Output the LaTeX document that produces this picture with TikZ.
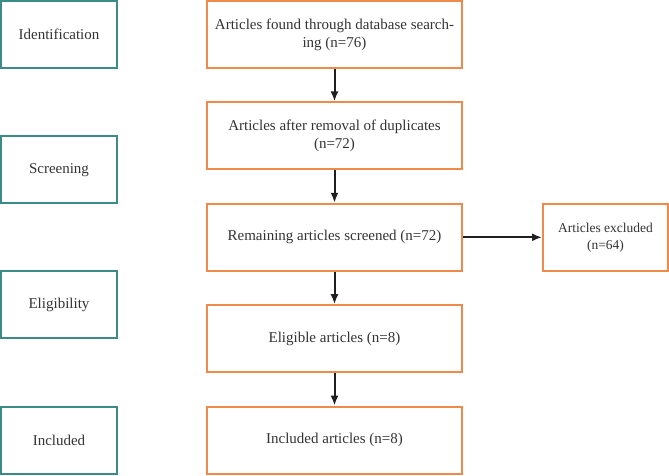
\documentclass[tikz,border=0pt]{standalone}
\usepackage{fontspec}
\setmainfont{Liberation Serif}
\usepackage{tikz}
\usetikzlibrary{arrows.meta, positioning}
\definecolor{stageteal}{HTML}{3B8B88}
\definecolor{steporange}{HTML}{F08A4B}
\definecolor{textgrey}{HTML}{333333}
\tikzset{
    stagebox/.style={draw=stageteal, line width=2pt, minimum width=116pt, minimum height=67pt, inner sep=2pt, align=center, text=textgrey, font=\fontsize{15}{18}\selectfont},
    flowbox/.style={draw=steporange, line width=2pt, minimum width=255pt, minimum height=67pt, inner sep=2pt, align=center, text=textgrey, font=\fontsize{15}{18}\selectfont},
    flow/.style={-{Latex[length=10pt, width=8pt]}, line width=2pt, draw=black!88},
}

\begin{document}
\begin{tikzpicture}
    \useasboundingbox (0,0) rectangle (669pt,-475pt);
    \tikzset{node distance=32.4pt}

    % main flow
    \node[flowbox] (found) at (334.5pt,-34.5pt) {Articles found through database search-\\ing (n=76)};
    \node[flowbox, below=of found] (nodup) {Articles after removal of duplicates\\(n=72)};
    \node[flowbox, below=of nodup] (screened) {Remaining articles screened (n=72)};
    \node[flowbox, below=of screened] (eligible) {Eligible articles (n=8)};
    \node[flowbox, below=of eligible] (included) {Included articles (n=8)};
    \node[flowbox, minimum width=125pt, font=\fontsize{13.5}{17}\selectfont, right=79pt of screened] (excluded) {Articles excluded\\(n=64)};

    % stages
    \node[stagebox, left=88pt of found] (ident) {Identification};
    \node[stagebox, left=88pt of included] (incl) {Included};
    \node[stagebox, below=66.2pt of ident] (screen) {Screening};
    \node[stagebox, below=66.2pt of screen] (elig) {Eligibility};

    \draw[flow] (found) -- (nodup);
    \draw[flow] (nodup) -- (screened);
    \draw[flow] (screened) -- (eligible);
    \draw[flow] (eligible) -- (included);
    \draw[flow] (screened) -- (excluded);
\end{tikzpicture}
\end{document}
